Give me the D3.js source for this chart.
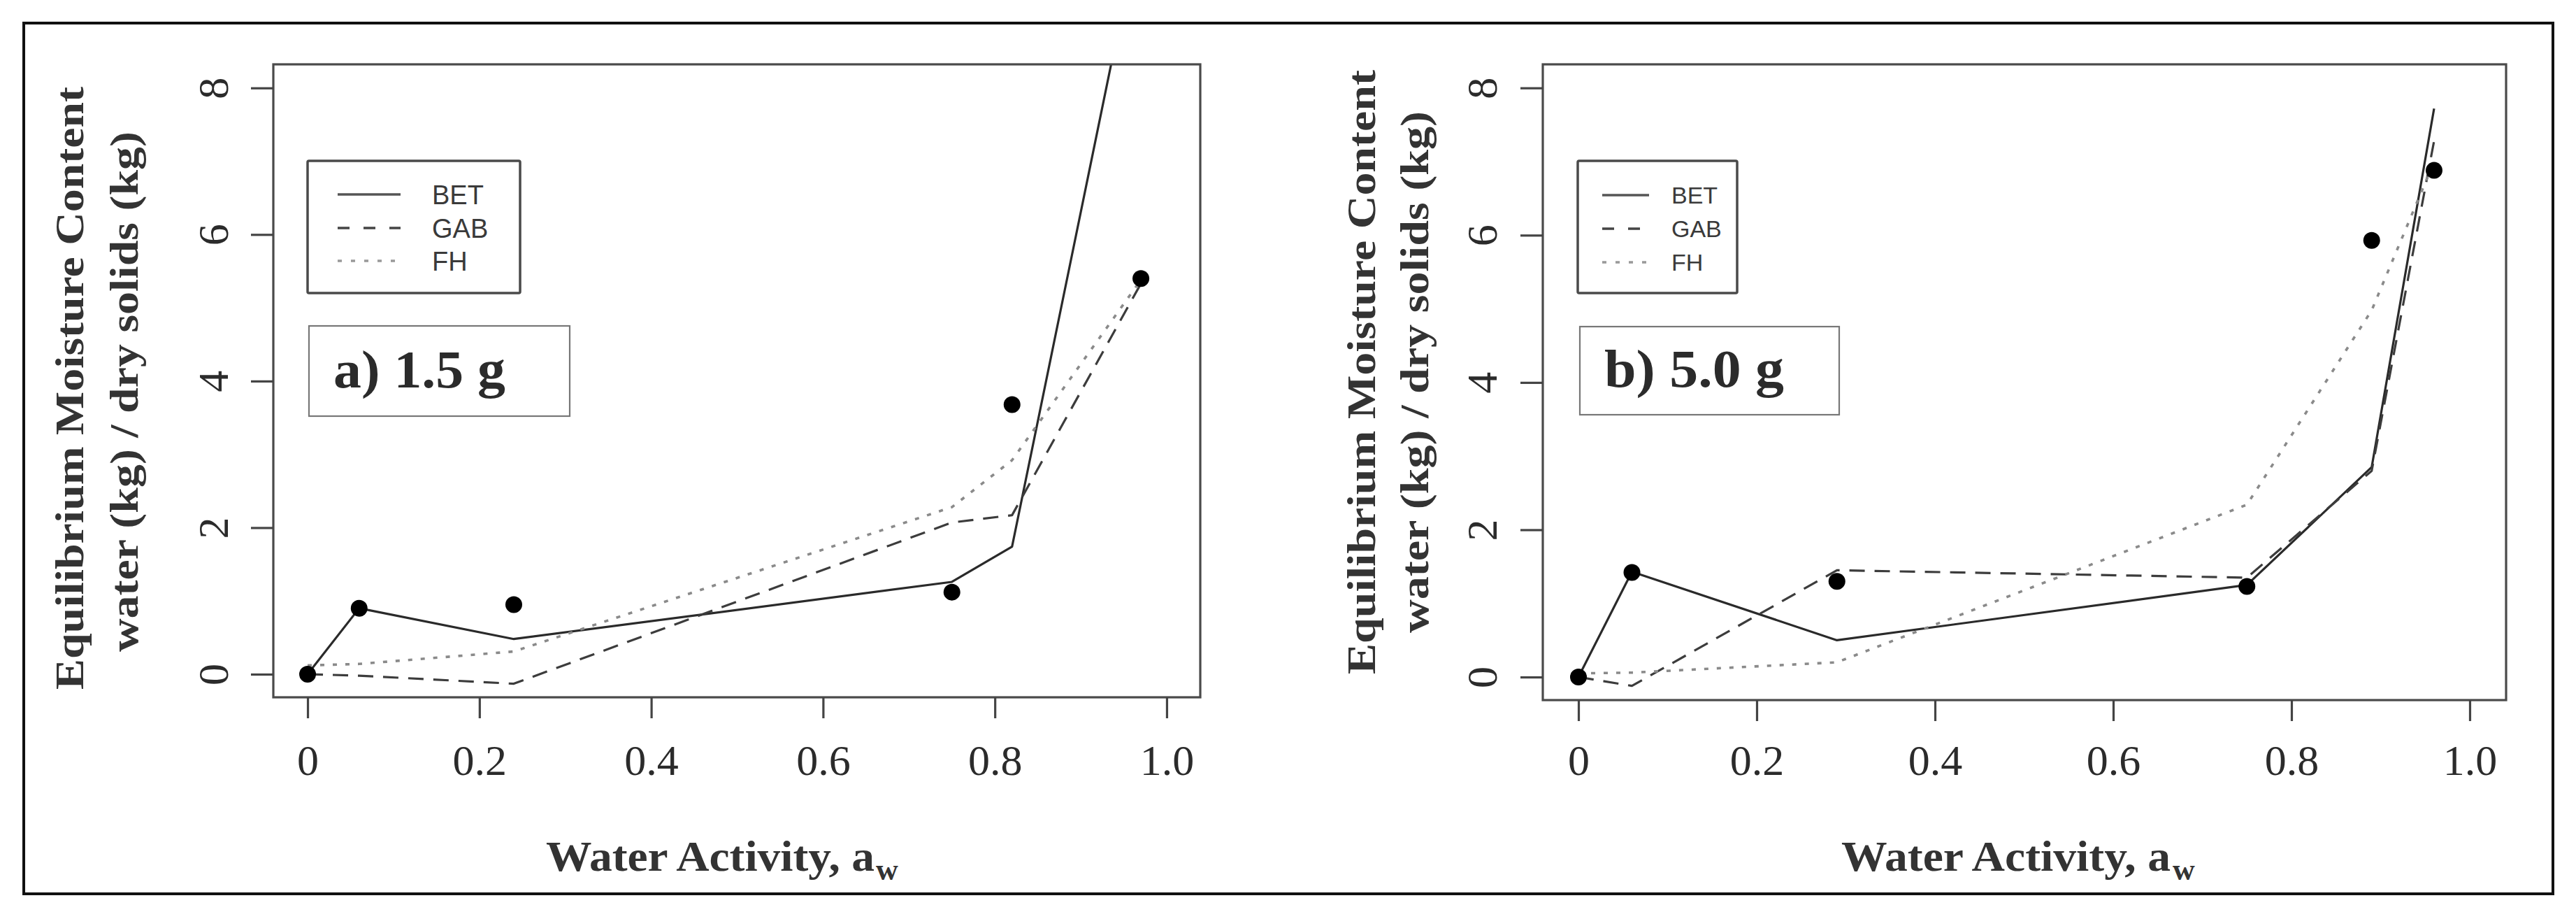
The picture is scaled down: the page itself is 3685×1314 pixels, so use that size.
<!DOCTYPE html>
<html>
<head>
<meta charset="utf-8">
<script src="https://cdn.jsdelivr.net/npm/d3@7"></script>
<style>
  html, body { margin: 0; padding: 0; background: #fff; }
  svg { display: block; }
</style>
</head>
<body>
<svg id="chart" width="3685" height="1314"></svg>
<script>
// ---------------- DATA ----------------
const seriesNames = ["BET", "GAB", "FH"];
const panelLabels = ["a) 1.5 g", "b) 5.0 g"];
const yLabelLines = ["Equilibrium  Moisture Content", "water (kg) / dry solids (kg)"];
const xLabelMain = "Water Activity, a";
const xLabelSub = "w";
const xTicks = [0, 0.2, 0.4, 0.6, 0.8, 1.0];
const xTickLabels = ["0", "0.2", "0.4", "0.6", "0.8", "1.0"];
const yTicks = [0, 2, 4, 6, 8];
const yTickLabels = ["0", "2", "4", "6", "8"];

// panel a) 1.5 g
const awA  = [0, 0.06, 0.24, 0.75, 0.82, 0.97];
const expA = [0, 0.90, 0.95, 1.12, 3.68, 5.40];
const betA = [0, 0.90, 0.48, 1.26, 1.74, 10.3];
const gabA = [0, -0.02, -0.13, 2.07, 2.17, 5.33];
const fhA  = [0.12, 0.14, 0.31, 2.28, 2.92, 5.38];

// panel b) 5.0 g
const awB  = [0, 0.06, 0.29, 0.75, 0.89, 0.96];
const expB = [0, 1.42, 1.30, 1.23, 5.93, 6.88];
const betB = [0, 1.43, 0.50, 1.25, 2.85, 7.72];
const gabB = [0, -0.12, 1.45, 1.35, 2.80, 7.28];
const fhB  = [0.05, 0.06, 0.20, 2.34, 4.98, 7.00];

// ---------------- LAYOUT ----------------
const panels = [
  { aw: awA, exp: expA, fits: [betA, gabA, fhA], label: panelLabels[0],
    box: { l: 391, t: 92, r: 1717, b: 997 }, xdom: [-0.0399, 1.0391], ydom: [-0.315, 8.322],
    legend: { l: 440, t: 230, r: 744, b: 419, x1: 483, x2: 573, tx: 618, rows: [278, 326, 373], fs: 38 },
    lbox: { l: 442, t: 466, r: 815, b: 595, tx: 477, ty: 554, tl: 246 },
    ylab: [{ x: 119, cy: 555, len: 862 }, { x: 197, cy: 560, len: 744 }],
    ytx: -65,
    xlab: { x: 781, y: 1245, len: 470, sx: 1253, sy: 1258 } },
  { aw: awB, exp: expB, fits: [betB, gabB, fhB], label: panelLabels[1],
    box: { l: 2207, t: 92, r: 3585, b: 1001 }, xdom: [-0.04, 1.0408], ydom: [-0.313, 8.32],
    legend: { l: 2257, t: 230, r: 2485, b: 419, x1: 2292, x2: 2359, tx: 2391, rows: [279, 327, 375], fs: 34 },
    lbox: { l: 2260, t: 467, r: 2631, b: 593, tx: 2295, ty: 553, tl: 257 },
    ylab: [{ x: 1967, cy: 532, len: 864 }, { x: 2043, cy: 532, len: 746 }],
    ytx: -66,
    xlab: { x: 2634, y: 1245, len: 471, sx: 3108, sy: 1258 } }
];

const styles = [
  { stroke: "#2a2a2a", width: 3.2, dash: null },
  { stroke: "#3c3c3c", width: 3.2, dash: "22,14" },
  { stroke: "#8a8a8a", width: 3.6, dash: "6,12" }
];
const legendStyles = [
  { stroke: "#555", width: 3.5, dash: null },
  { stroke: "#444", width: 3.5, dash: "17,20" },
  { stroke: "#999", width: 3.5, dash: "6,13" }
];

const serif = "'Liberation Serif', 'DejaVu Serif', serif";
const sans = "'Liberation Sans', Arial, sans-serif";

const svg = d3.select("#chart");
svg.append("rect").attr("width", 3685).attr("height", 1314).attr("fill", "#fff");

// outer frame
svg.append("rect")
  .attr("x", 34).attr("y", 33).attr("width", 3652 - 34).attr("height", 1278 - 33)
  .attr("fill", "none").attr("stroke", "#111").attr("stroke-width", 4);

panels.forEach((p, pi) => {
  const g = svg.append("g");
  const x = d3.scaleLinear().domain(p.xdom).range([p.box.l, p.box.r]);
  const y = d3.scaleLinear().domain(p.ydom).range([p.box.b, p.box.t]);

  const clipId = "clip" + pi;
  g.append("clipPath").attr("id", clipId).append("rect")
    .attr("x", p.box.l).attr("y", p.box.t)
    .attr("width", p.box.r - p.box.l).attr("height", p.box.b - p.box.t);

  // fitted curves
  const line = d3.line().x(d => x(d[0])).y(d => y(d[1]));
  const plotG = g.append("g").attr("clip-path", `url(#${clipId})`);
  p.fits.forEach((vals, si) => {
    const st = styles[si];
    plotG.append("path")
      .datum(p.aw.map((a, i) => [a, vals[i]]))
      .attr("d", line)
      .attr("fill", "none")
      .attr("stroke", st.stroke)
      .attr("stroke-width", st.width)
      .attr("stroke-linejoin", "round")
      .attr("stroke-dasharray", st.dash);
  });

  // experimental points
  plotG.selectAll("circle.pt").data(p.aw.map((a, i) => [a, p.exp[i]]))
    .enter().append("circle")
    .attr("cx", d => x(d[0])).attr("cy", d => y(d[1]))
    .attr("r", 12).attr("fill", "#000");

  // plot box
  g.append("rect")
    .attr("x", p.box.l).attr("y", p.box.t)
    .attr("width", p.box.r - p.box.l).attr("height", p.box.b - p.box.t)
    .attr("fill", "none").attr("stroke", "#4a4a4a").attr("stroke-width", 3.2);

  // x axis
  const xAxis = d3.axisBottom(x).tickValues(xTicks)
    .tickFormat((d, i) => xTickLabels[i]).tickSize(30).tickSizeOuter(0);
  const xg = g.append("g").attr("transform", `translate(0,${p.box.b})`).call(xAxis);
  xg.select(".domain").remove();
  xg.selectAll(".tick line").attr("stroke", "#444").attr("stroke-width", 3.2);
  xg.selectAll(".tick text")
    .attr("y", 1108 - p.box.b).attr("dy", 0)
    .attr("font-family", serif).attr("font-size", 62).attr("fill", "#2b2b2b");

  // y axis
  const yAxis = d3.axisLeft(y).tickValues(yTicks)
    .tickFormat((d, i) => yTickLabels[i]).tickSize(32).tickSizeOuter(0);
  const yg = g.append("g").attr("transform", `translate(${p.box.l},0)`).call(yAxis);
  yg.select(".domain").remove();
  yg.selectAll(".tick line").attr("stroke", "#444").attr("stroke-width", 3.2);
  yg.selectAll(".tick text")
    .attr("x", 0).attr("y", 0).attr("dy", 0)
    .attr("transform", `translate(${p.ytx},0) rotate(-90)`)
    .attr("text-anchor", "middle")
    .attr("font-family", serif).attr("font-size", 62).attr("fill", "#2b2b2b");

  // legend
  const L = p.legend;
  g.append("rect").attr("x", L.l).attr("y", L.t)
    .attr("width", L.r - L.l).attr("height", L.b - L.t)
    .attr("fill", "#fff").attr("stroke", "#4a4a4a").attr("stroke-width", 3.5).attr("rx", 2);
  seriesNames.forEach((name, si) => {
    const st = legendStyles[si];
    g.append("line").attr("x1", L.x1).attr("x2", L.x2)
      .attr("y1", L.rows[si]).attr("y2", L.rows[si])
      .attr("stroke", st.stroke).attr("stroke-width", st.width)
      .attr("stroke-dasharray", st.dash);
    g.append("text").attr("x", L.tx).attr("y", L.rows[si] + L.fs * 0.36)
      .attr("font-family", sans).attr("font-size", L.fs).attr("fill", "#3a3a3a")
      .text(name);
  });

  // panel label box
  const B = p.lbox;
  g.append("rect").attr("x", B.l).attr("y", B.t)
    .attr("width", B.r - B.l).attr("height", B.b - B.t)
    .attr("fill", "#fff").attr("stroke", "#777").attr("stroke-width", 2.2);
  g.append("text").attr("x", B.tx).attr("y", B.ty)
    .attr("font-family", serif).attr("font-weight", "bold").attr("font-size", 76)
    .attr("fill", "#2b2b2b")
    .attr("textLength", B.tl).attr("lengthAdjust", "spacingAndGlyphs")
    .text(p.label);

  // y-axis title (two lines)
  p.ylab.forEach((yl, li) => {
    g.append("text")
      .attr("transform", `translate(${yl.x},${yl.cy}) rotate(-90)`)
      .attr("text-anchor", "middle")
      .attr("font-family", serif).attr("font-weight", "bold").attr("font-size", 58)
      .attr("fill", "#333")
      .attr("textLength", yl.len).attr("lengthAdjust", "spacingAndGlyphs")
      .text(yLabelLines[li]);
  });

  // x-axis title
  const X = p.xlab;
  g.append("text").attr("x", X.x).attr("y", X.y)
    .attr("font-family", serif).attr("font-weight", "bold").attr("font-size", 62)
    .attr("fill", "#333")
    .attr("textLength", X.len).attr("lengthAdjust", "spacingAndGlyphs")
    .text(xLabelMain);
  g.append("text").attr("x", X.sx).attr("y", X.sy)
    .attr("font-family", serif).attr("font-weight", "bold").attr("font-size", 44)
    .attr("fill", "#333")
    .text(xLabelSub);
});
</script>
</body>
</html>
